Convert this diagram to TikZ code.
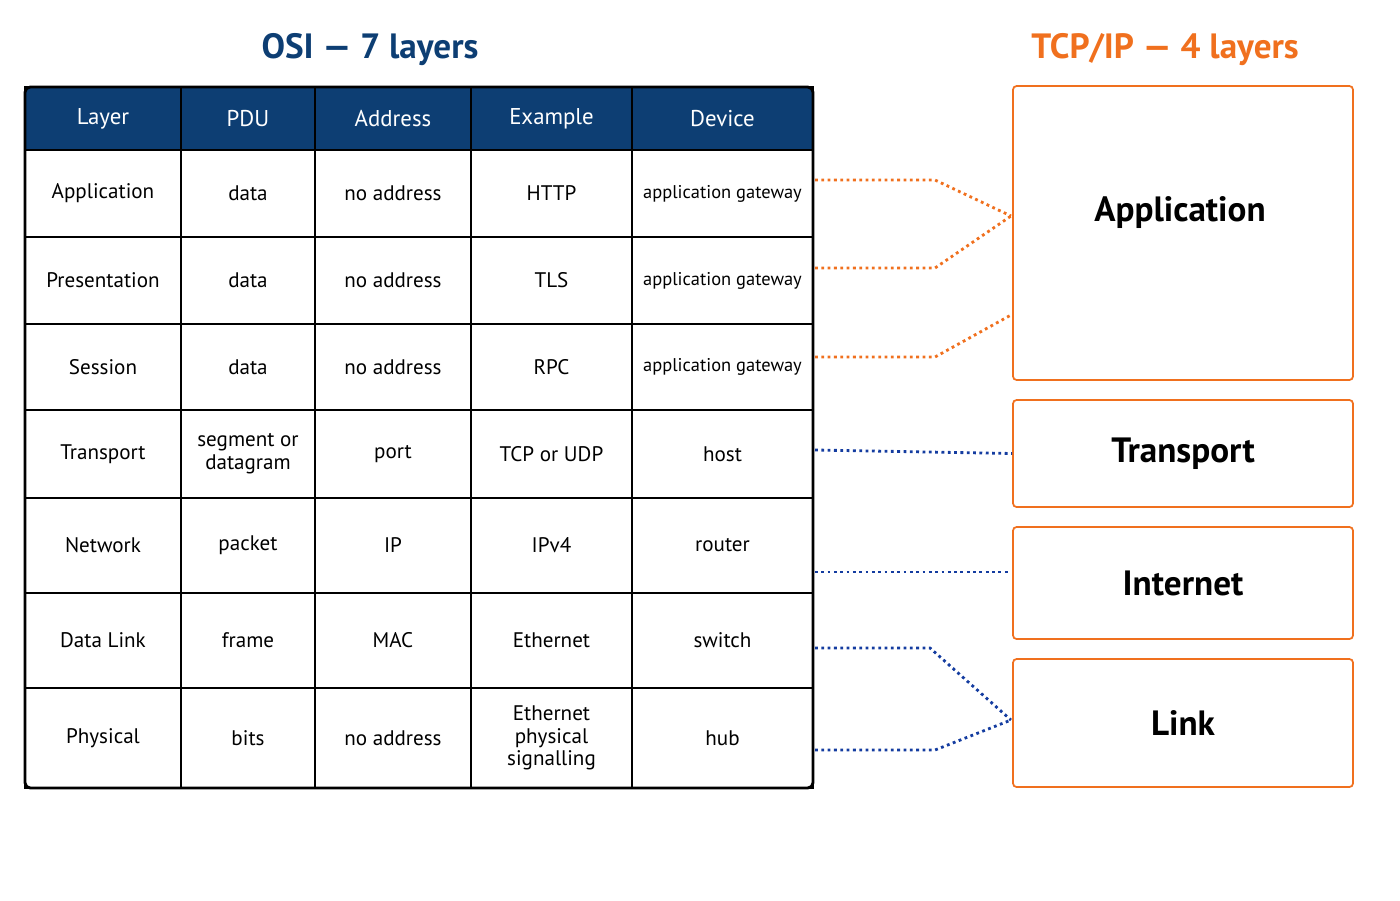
\documentclass[tikz,border=0pt]{standalone}
\usepackage{fontspec}
\setmainfont{PT Sans}
\usetikzlibrary{positioning}
\definecolor{osiblue}{RGB}{13,62,115}
\definecolor{tcporange}{RGB}{240,112,30}
\definecolor{linkblue}{RGB}{20,60,160}
\begin{document}
\begin{tikzpicture}[x=0.02cm,y=-0.02cm,
  cell/.style={draw, line width=0.8pt, inner sep=1pt, align=center, font=\fontsize{12}{13}\selectfont},
  head/.style={cell, fill=osiblue, text=white, font=\fontsize{13}{14}\selectfont},
  layerbox/.style={draw=tcporange, line width=1pt, rounded corners=2pt, font=\bfseries\fontsize{20}{22}\selectfont},
  orangelink/.style={tcporange, line width=1.6pt, dotted},
  bluelink/.style={linkblue, line width=1.6pt, dotted}]
  \useasboundingbox (0,0) rectangle (1400,900);
  % titles
  \node [text=osiblue, font=\bfseries\fontsize{20}{22}\selectfont] (osi) at (370,50) {OSI — 7 layers};
  \node [text=tcporange, font=\bfseries\fontsize{20}{22}\selectfont] (tcp) at (1165,50) {TCP/IP — 4 layers};
  % header row
  \foreach \x/\w/\t [count=\i] in {103/3.12/Layer, 248/2.68/PDU, 393/3.12/Address, 551.5/3.22/Example, 722.5/3.62/Device}
    \node [head, minimum width=\w cm, minimum height=1.26cm] (h\i) at (\x,118.5) {\t};
  % body rows
  \foreach \y/\h/\a/\b/\c/\d/\e [count=\r] in {
      193.5/1.74/Application/data/no address/HTTP/{\fontsize{10.5}{12}\selectfont application gateway},
      280.5/1.74/Presentation/data/no address/TLS/{\fontsize{10.5}{12}\selectfont application gateway},
      367/1.72/Session/data/no address/RPC/{\fontsize{10.5}{12}\selectfont application gateway},
      454/1.76/Transport/{segment or\\datagram}/port/TCP or UDP/host,
      545.5/1.9/Network/packet/IP/IPv4/router,
      640.5/1.9/Data Link/frame/MAC/Ethernet/switch,
      738/2.0/Physical/bits/no address/{Ethernet\\physical\\signalling}/hub} {
    \node [cell, minimum width=3.12cm, minimum height=\h cm] (c\r a) at (103,\y) {\a};
    \node [cell, minimum width=2.68cm, minimum height=\h cm] (c\r b) at (248,\y) {\b};
    \node [cell, minimum width=3.12cm, minimum height=\h cm] (c\r c) at (393,\y) {\c};
    \node [cell, minimum width=3.22cm, minimum height=\h cm] (c\r d) at (551.5,\y) {\d};
    \node [cell, minimum width=3.62cm, minimum height=\h cm] (c\r e) at (722.5,\y) {\e};
  }
  \draw [line width=1.6pt, rounded corners=3pt] (25,87) rectangle (813,788);
  % TCP/IP layers
  \node [layerbox, minimum width=6.8cm, minimum height=5.88cm] (app) at (1183,233) {};
  \node [font=\bfseries\fontsize{20}{22}\selectfont] (applabel) at (1180,213) {Application};
  \node [layerbox, minimum width=6.8cm, minimum height=2.14cm] (trans) at (1183,453.5) {Transport};
  \node [layerbox, minimum width=6.8cm, minimum height=2.24cm] (inet) at (1183,583) {Internet};
  \node [layerbox, minimum width=6.8cm, minimum height=2.56cm] (link) at (1183,723) {Link};
  % link ends
  \coordinate (o1) at (815,180);
  \coordinate (o2) at (815,268);
  \coordinate (o3) at (815,357);
  \coordinate (b1) at (815,450);
  \coordinate (b2) at (815,572);
  \coordinate (b3) at (815,648);
  \coordinate (b4) at (815,750);
  \coordinate (appin) at (1011,216);
  \coordinate (appin2) at (1011,315);
  \coordinate (linkin) at (1011,720);
  \draw [orangelink] (o1) -- (935,180) -- (appin);
  \draw [orangelink] (o2) -- (935,268) -- (appin);
  \draw [orangelink] (o3) -- (935,357) -- (appin2);
  \draw [bluelink] (b1) -- (trans.west);
  \draw [bluelink] (b2) -- (1011,572);
  \draw [bluelink] (b3) -- (930,648) -- (linkin);
  \draw [bluelink] (b4) -- (935,750) -- (linkin);
\end{tikzpicture}
\end{document}
